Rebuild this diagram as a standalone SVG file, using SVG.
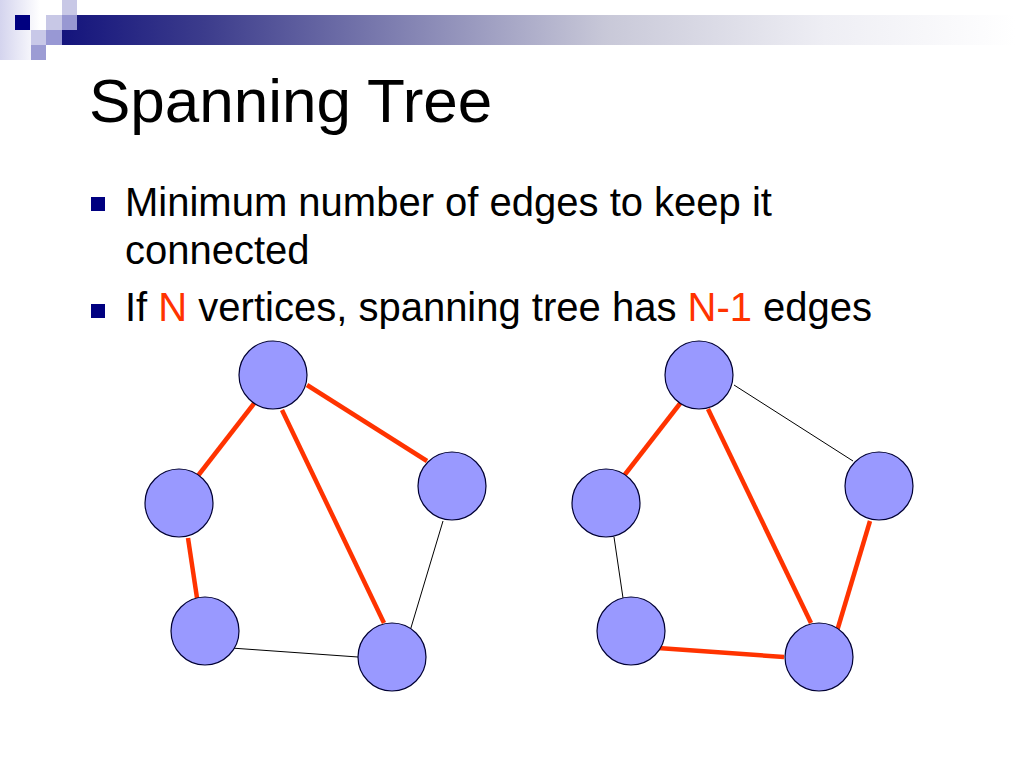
<svg xmlns="http://www.w3.org/2000/svg" width="1024" height="768" viewBox="0 0 1024 768">
<defs>
<linearGradient id="bar" x1="62" y1="0" x2="1015" y2="0" gradientUnits="userSpaceOnUse">
<stop offset="0" stop-color="#14147c"/>
<stop offset="0.15" stop-color="#3c3c8c"/>
<stop offset="0.57" stop-color="#c8c8d8"/>
<stop offset="0.8" stop-color="#eeeef4"/>
<stop offset="1" stop-color="#ffffff"/>
</linearGradient>
<linearGradient id="lft" x1="0" y1="0" x2="40" y2="0" gradientUnits="userSpaceOnUse">
<stop offset="0" stop-color="#d4d4ee"/>
<stop offset="1" stop-color="#ffffff"/>
</linearGradient>
<style>
.t{font-family:"Liberation Sans",Arial,sans-serif;fill:#000}
.r{fill:#ff3300}
.node{fill:#9999ff;stroke:#000033;stroke-width:1.2}
.sel{stroke:#ff3300;stroke-width:4.5;fill:none}
.thin{stroke:#000;stroke-width:1;fill:none}
.bul{fill:#000080}
</style>
</defs>
<rect width="1024" height="768" fill="#fff"/>
<g id="header">
<rect x="0" y="0" width="40" height="60" fill="url(#lft)"/>
<rect x="62" y="0" width="15" height="15" fill="#c8c8e6"/>
<rect x="15" y="15" width="15" height="15" fill="#000080"/>
<rect x="46" y="15" width="16" height="15" fill="#c8c8e6"/>
<rect x="62" y="15" width="15" height="15" fill="#9898d2"/>
<rect x="31" y="30" width="15" height="15" fill="#c8c8e8"/>
<rect x="46" y="30" width="16" height="15" fill="#9898d4"/>
<rect x="31" y="45" width="15" height="15" fill="#9c9cd4"/>
<rect x="77" y="15" width="940" height="15" fill="url(#bar)"/>
<rect x="62" y="30" width="955" height="15" fill="url(#bar)"/>
</g>
<g id="title">
<text class="t" x="89" y="122" font-size="62">Spanning Tree</text>
</g>
<g id="bullets">
<rect class="bul" x="91" y="197" width="14" height="14"/>
<text class="t" x="125" y="216" font-size="40">Minimum number of edges to keep it</text>
<text class="t" x="125" y="264" font-size="40">connected</text>
<rect class="bul" x="91" y="304" width="14" height="14"/>
<text class="t" x="125" y="321" font-size="40">If <tspan class="r">N</tspan> vertices, spanning tree has <tspan class="r">N-1</tspan> edges</text>
</g>
<g id="connectors">
<line class="sel" x1="256" y1="401" x2="197" y2="477"/>
<line class="sel" x1="307" y1="385" x2="427" y2="461"/>
<line class="sel" x1="282" y1="410" x2="384" y2="623"/>
<line class="sel" x1="188" y1="538" x2="197" y2="598"/>
<line class="thin" x1="443" y1="521" x2="410" y2="631"/>
<line class="thin" x1="231" y1="648" x2="358" y2="657"/>
<line class="sel" x1="682" y1="401" x2="623" y2="477"/>
<line class="thin" x1="734" y1="385" x2="853" y2="461"/>
<line class="sel" x1="708" y1="409" x2="811" y2="623"/>
<line class="thin" x1="614" y1="537" x2="623" y2="598"/>
<line class="sel" x1="870" y1="521" x2="837" y2="631"/>
<line class="sel" x1="658" y1="648" x2="784" y2="657"/>
</g>
<g id="graph1">
<g id="g1-top"><circle class="node" cx="273" cy="375" r="34"/></g>
<g id="g1-left"><circle class="node" cx="179" cy="503" r="34"/></g>
<g id="g1-right"><circle class="node" cx="452" cy="486" r="34"/></g>
<g id="g1-bl"><circle class="node" cx="205" cy="631" r="34"/></g>
<g id="g1-br"><circle class="node" cx="392" cy="657" r="34"/></g>
</g>
<g id="graph2">
<g id="g2-top"><circle class="node" cx="699" cy="375" r="34"/></g>
<g id="g2-left"><circle class="node" cx="606" cy="503" r="34"/></g>
<g id="g2-right"><circle class="node" cx="879" cy="486" r="34"/></g>
<g id="g2-bl"><circle class="node" cx="631" cy="631" r="34"/></g>
<g id="g2-br"><circle class="node" cx="819" cy="657" r="34"/></g>
</g>
</svg>
